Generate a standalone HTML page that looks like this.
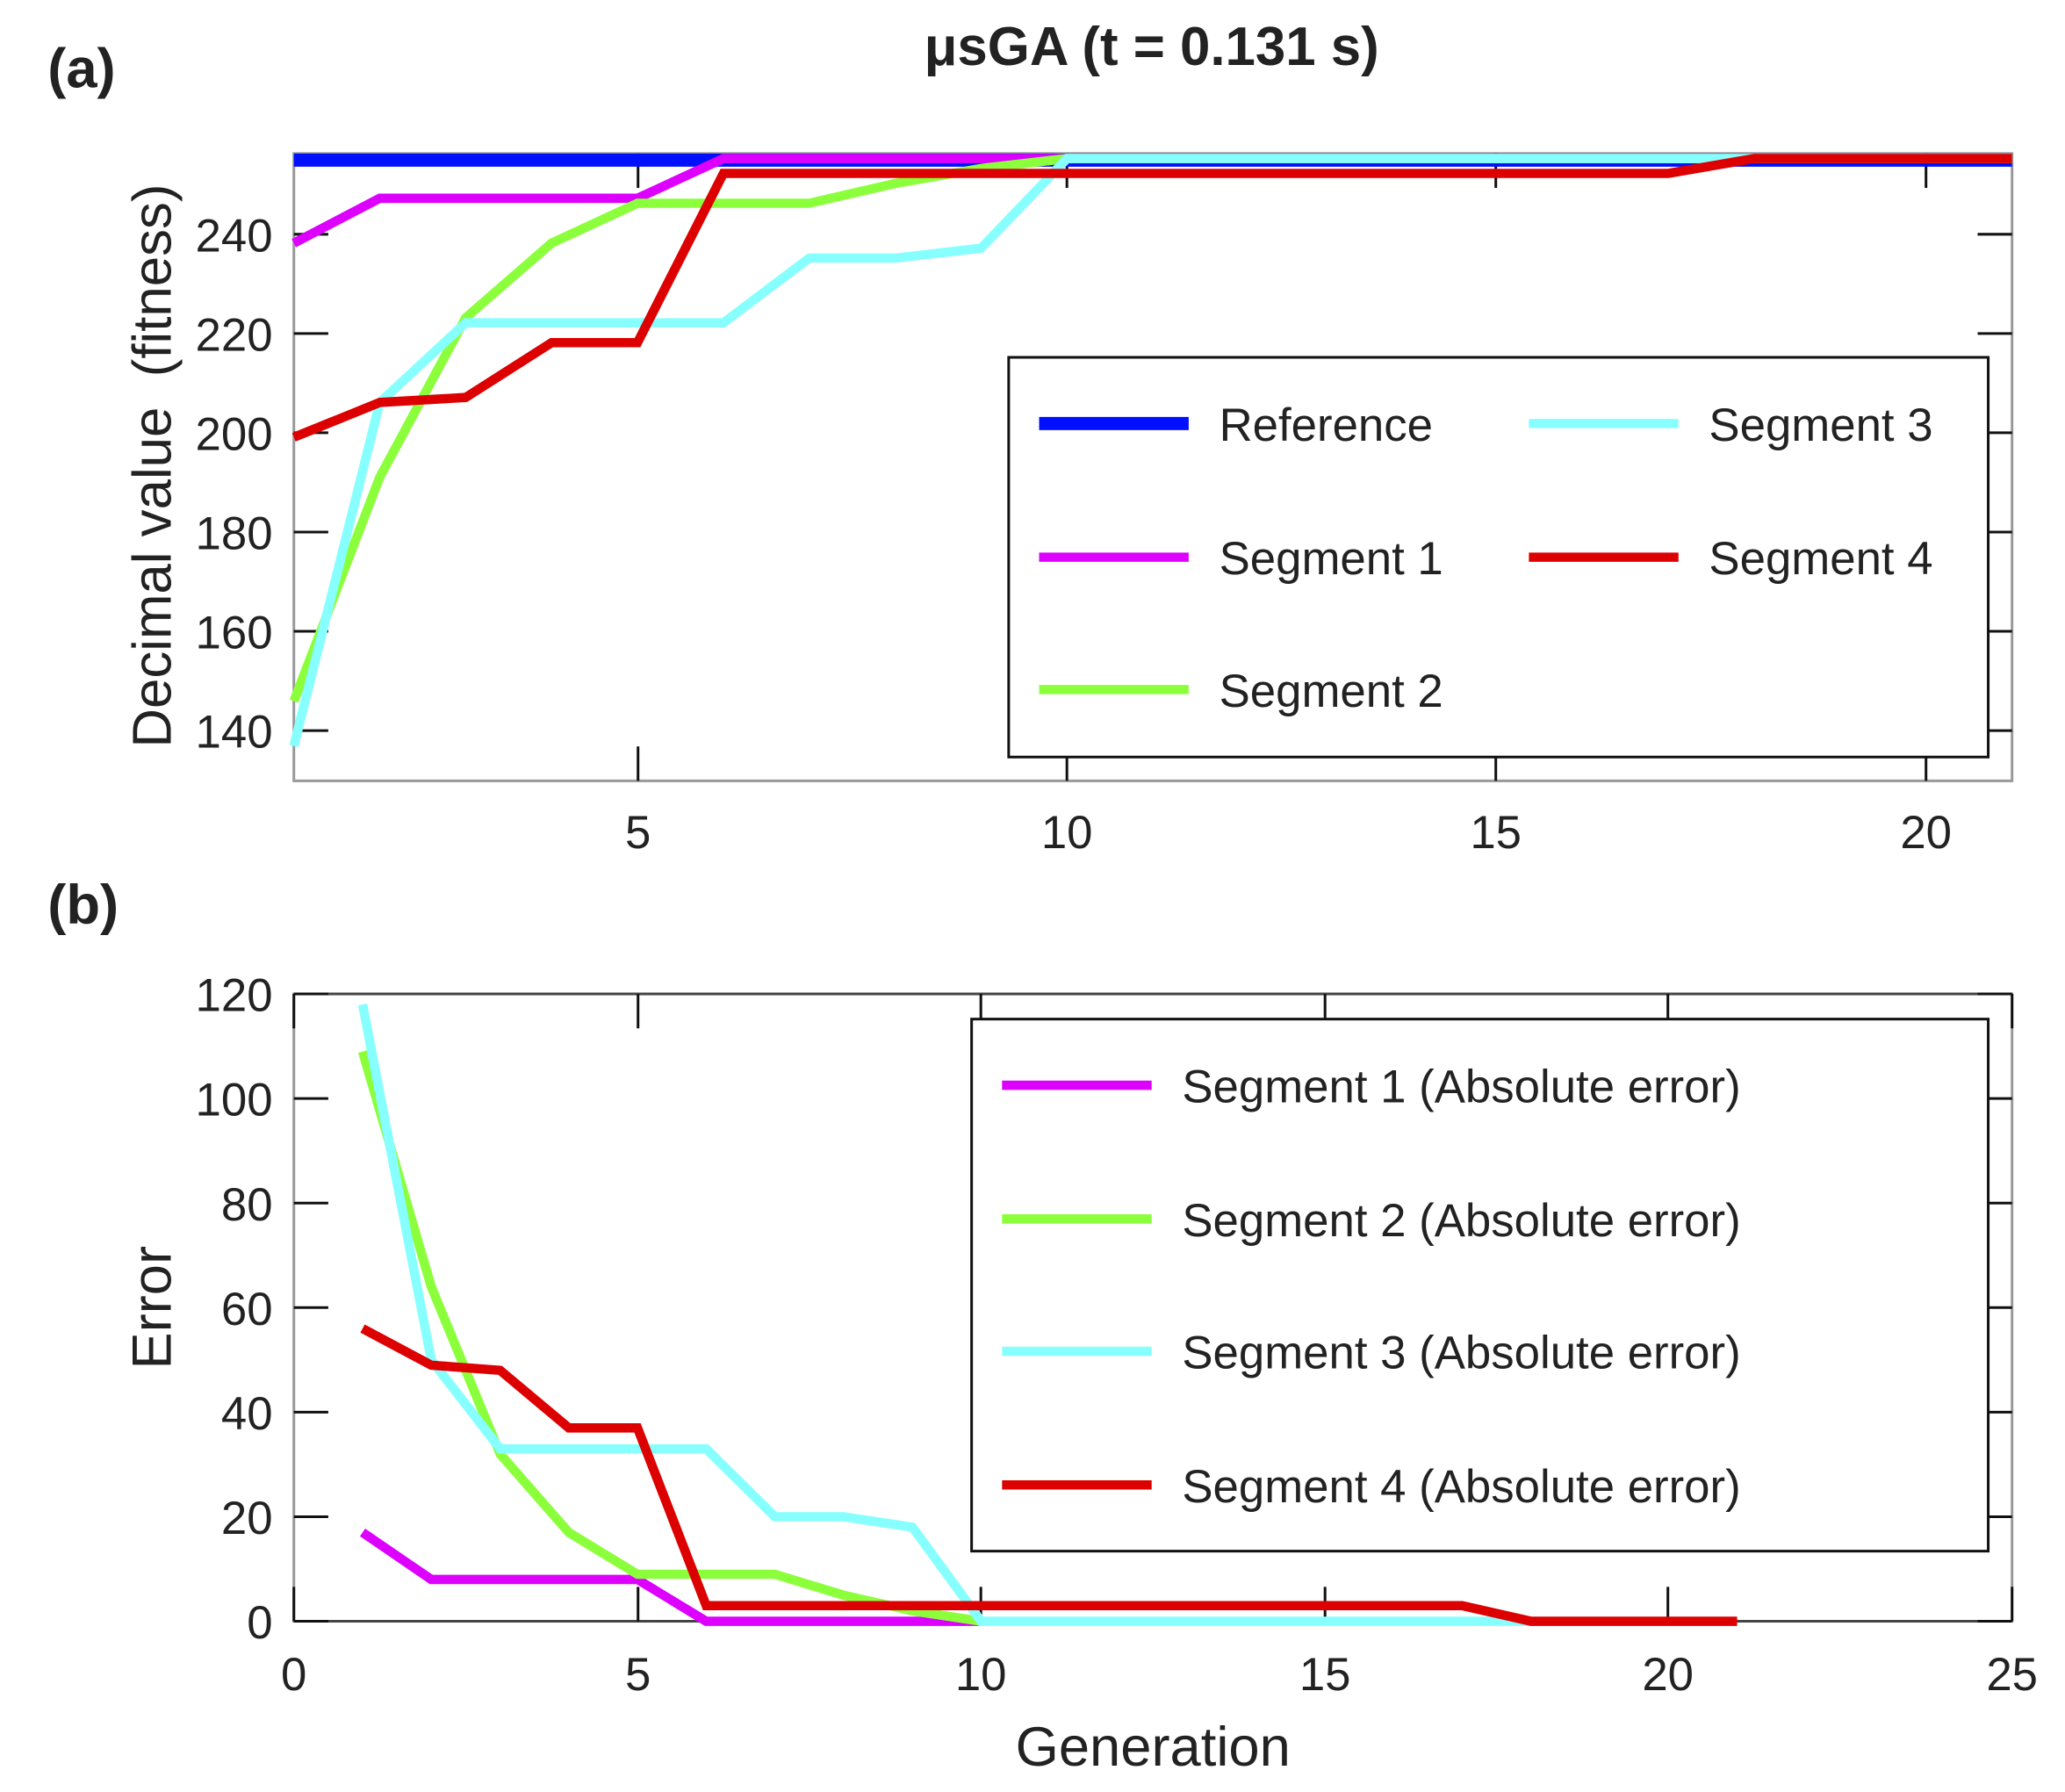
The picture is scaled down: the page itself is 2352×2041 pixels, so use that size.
<!DOCTYPE html>
<html><head><meta charset="utf-8"><style>
html,body{margin:0;padding:0;background:#fff}
svg{display:block}
text{font-family:"Liberation Sans",sans-serif;fill:#222}
</style></head><body>
<svg width="2352" height="2041" viewBox="0 0 1560 1354" preserveAspectRatio="none" xmlns="http://www.w3.org/2000/svg">
<rect width="1560" height="1354" fill="#fff"/>
<text x="36" y="66" font-size="42" font-weight="bold" fill="#111">(a)</text>
<text x="36" y="698" font-size="42" font-weight="bold" fill="#111">(b)</text>
<text x="870" y="49" font-size="41" font-weight="bold" text-anchor="middle" fill="#111">μsGA (t = 0.131 s)</text>

<!-- ===== Panel A ===== -->
<rect x="222" y="116" width="1298" height="474" fill="none" stroke="#999" stroke-width="2"/>
<g stroke="#111" stroke-width="2">
<line x1="482" y1="116" x2="482" y2="142"/><line x1="806" y1="116" x2="806" y2="142"/><line x1="1130" y1="116" x2="1130" y2="142"/><line x1="1455" y1="116" x2="1455" y2="142"/>
<line x1="482" y1="590" x2="482" y2="564"/><line x1="806" y1="590" x2="806" y2="564"/><line x1="1130" y1="590" x2="1130" y2="564"/><line x1="1455" y1="590" x2="1455" y2="564"/>
<line x1="222" y1="552" x2="248" y2="552"/><line x1="222" y1="477" x2="248" y2="477"/><line x1="222" y1="402" x2="248" y2="402"/><line x1="222" y1="327" x2="248" y2="327"/><line x1="222" y1="252" x2="248" y2="252"/><line x1="222" y1="177" x2="248" y2="177"/>
<line x1="1520" y1="552" x2="1494" y2="552"/><line x1="1520" y1="477" x2="1494" y2="477"/><line x1="1520" y1="402" x2="1494" y2="402"/><line x1="1520" y1="327" x2="1494" y2="327"/><line x1="1520" y1="252" x2="1494" y2="252"/><line x1="1520" y1="177" x2="1494" y2="177"/>
</g>
<g font-size="35" text-anchor="end">
<text x="206" y="565">140</text><text x="206" y="490">160</text><text x="206" y="415">180</text><text x="206" y="340">200</text><text x="206" y="265">220</text><text x="206" y="190">240</text>
</g>
<g font-size="35" text-anchor="middle">
<text x="482" y="641">5</text><text x="806" y="641">10</text><text x="1130" y="641">15</text><text x="1455" y="641">20</text>
</g>
<text transform="translate(129,352) rotate(-90)" font-size="41" text-anchor="middle" xml:space="preserve">Decimal value  (fitness)</text>
<g fill="none" stroke-width="7">
<polyline stroke="#0010ff" stroke-width="10" points="222,121 1520,121"/>
<polyline stroke="#dd00ff" points="222,183.7 286.9,149.8 481.6,149.8 546.5,119.8 1520,119.8"/>
<polyline stroke="#8cff3c" points="222,529.8 286.9,360.5 351.8,240.1 416.7,183.7 481.6,153.6 611.4,153.6 676.3,138.6 741.2,127.3 806.1,119.8 1520,119.8"/>
<polyline stroke="#88ffff" points="222,563.7 286.9,304.1 351.8,243.9 546.5,243.9 611.4,195 676.3,195 741.2,187.5 806.1,119.8 1520,119.8"/>
<polyline stroke="#dd0000" points="222,330.4 286.9,304.1 351.8,300.3 416.7,258.9 481.6,258.9 546.5,131 1260.4,131 1325.3,119.8 1520,119.8"/>
</g>
<rect x="762" y="270" width="740" height="302" fill="#fff" stroke="#111" stroke-width="2"/>
<g stroke-width="7">
<line x1="785" y1="320" x2="898" y2="320" stroke="#0010ff" stroke-width="10"/>
<line x1="785" y1="421" x2="898" y2="421" stroke="#dd00ff"/>
<line x1="785" y1="521" x2="898" y2="521" stroke="#8cff3c"/>
<line x1="1155" y1="320" x2="1268" y2="320" stroke="#88ffff"/>
<line x1="1155" y1="421" x2="1268" y2="421" stroke="#dd0000"/>
</g>
<g font-size="35">
<text x="921" y="333" fill="#111">Reference</text>
<text x="921" y="434" fill="#111">Segment 1</text>
<text x="921" y="534" fill="#111">Segment 2</text>
<text x="1291" y="333" fill="#111">Segment 3</text>
<text x="1291" y="434" fill="#111">Segment 4</text>
</g>

<!-- ===== Panel B ===== -->
<rect x="222" y="751" width="1298" height="474" fill="none" stroke="#999" stroke-width="2"/>
<g stroke="#111" stroke-width="2">
<line x1="222" y1="751" x2="1520" y2="751" stroke="#444"/>
<line x1="222" y1="1225" x2="1520" y2="1225" stroke="#444"/>
<line x1="482" y1="751" x2="482" y2="777"/><line x1="741" y1="751" x2="741" y2="777"/><line x1="1001" y1="751" x2="1001" y2="777"/><line x1="1260" y1="751" x2="1260" y2="777"/>
<line x1="482" y1="1225" x2="482" y2="1199"/><line x1="741" y1="1225" x2="741" y2="1199"/><line x1="1001" y1="1225" x2="1001" y2="1199"/><line x1="1260" y1="1225" x2="1260" y2="1199"/>
<line x1="222" y1="751" x2="222" y2="777"/><line x1="1520" y1="751" x2="1520" y2="777"/><line x1="222" y1="1225" x2="222" y2="1199"/><line x1="1520" y1="1225" x2="1520" y2="1199"/>
<line x1="222" y1="1225" x2="248" y2="1225"/><line x1="222" y1="1146" x2="248" y2="1146"/><line x1="222" y1="1067" x2="248" y2="1067"/><line x1="222" y1="988" x2="248" y2="988"/><line x1="222" y1="909" x2="248" y2="909"/><line x1="222" y1="830" x2="248" y2="830"/><line x1="222" y1="751" x2="248" y2="751"/>
<line x1="1520" y1="1225" x2="1494" y2="1225"/><line x1="1520" y1="1146" x2="1494" y2="1146"/><line x1="1520" y1="1067" x2="1494" y2="1067"/><line x1="1520" y1="988" x2="1494" y2="988"/><line x1="1520" y1="909" x2="1494" y2="909"/><line x1="1520" y1="830" x2="1494" y2="830"/><line x1="1520" y1="751" x2="1494" y2="751"/>
</g>
<g font-size="35" text-anchor="end">
<text x="206" y="1238">0</text><text x="206" y="1159">20</text><text x="206" y="1080">40</text><text x="206" y="1001">60</text><text x="206" y="922">80</text><text x="206" y="843">100</text><text x="206" y="764">120</text>
</g>
<g font-size="35" text-anchor="middle">
<text x="222" y="1277">0</text><text x="482" y="1277">5</text><text x="741" y="1277">10</text><text x="1001" y="1277">15</text><text x="1260" y="1277">20</text><text x="1520" y="1277">25</text>
</g>
<text x="871" y="1334" font-size="42" text-anchor="middle">Generation</text>
<text transform="translate(129,988) rotate(-90)" font-size="42" text-anchor="middle">Error</text>
<g fill="none" stroke-width="7">
<polyline stroke="#dd00ff" points="273.9,1157.9 325.8,1193.4 481.6,1193.4 533.5,1225 741.2,1225"/>
<polyline stroke="#8cff3c" points="273.9,794.5 325.8,972.2 377.8,1098.6 429.7,1157.9 481.6,1189.5 585.4,1189.5 637.4,1205.3 689.3,1217.1 741.2,1225"/>
<polyline stroke="#88ffff" points="273.9,758.9 325.8,1027.5 377.8,1094.7 533.5,1094.7 585.4,1146 637.4,1146 689.3,1153.9 741.2,1225 1156.6,1225"/>
<polyline stroke="#dd0000" points="273.9,1003.8 325.8,1031.5 377.8,1035.4 429.7,1078.9 481.6,1078.9 533.5,1213.2 1104.6,1213.2 1156.6,1225 1312.3,1225"/>
</g>
<rect x="734" y="770" width="768" height="402" fill="#fff" stroke="#111" stroke-width="2"/>
<g stroke-width="7">
<line x1="757" y1="820" x2="870" y2="820" stroke="#dd00ff"/>
<line x1="757" y1="921" x2="870" y2="921" stroke="#8cff3c"/>
<line x1="757" y1="1021" x2="870" y2="1021" stroke="#88ffff"/>
<line x1="757" y1="1122" x2="870" y2="1122" stroke="#dd0000"/>
</g>
<g font-size="35">
<text x="893" y="833" fill="#111">Segment 1 (Absolute error)</text>
<text x="893" y="934" fill="#111">Segment 2 (Absolute error)</text>
<text x="893" y="1034" fill="#111">Segment 3 (Absolute error)</text>
<text x="893" y="1135" fill="#111">Segment 4 (Absolute error)</text>
</g>
</svg>
</body></html>
